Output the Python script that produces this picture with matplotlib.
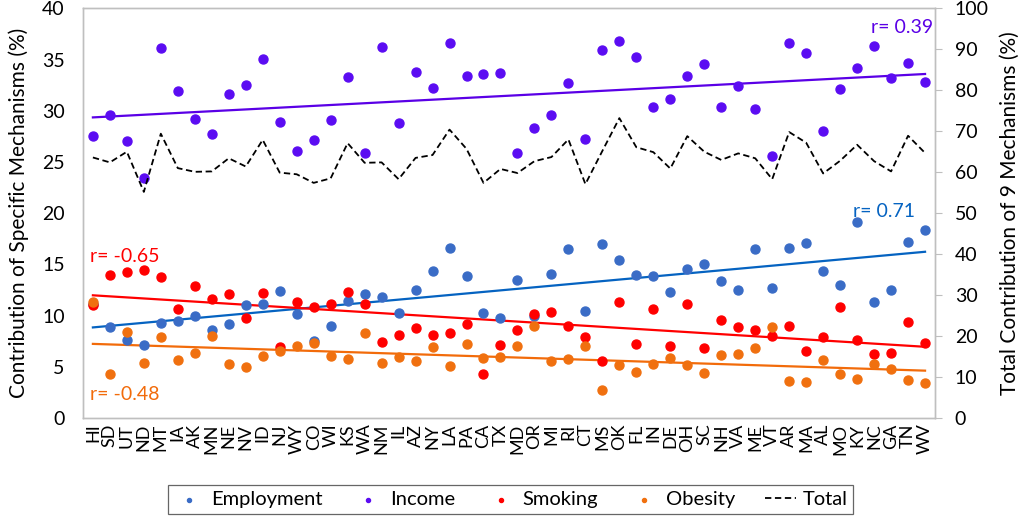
import numpy as np
import matplotlib
matplotlib.use("Agg")
import matplotlib.pyplot as plt

plt.rcParams['font.family'] = ['Lato', 'DejaVu Sans']

states = ['HI', 'SD', 'UT', 'ND', 'MT', 'IA', 'AK', 'MN', 'NE', 'NV',
          'ID', 'NJ', 'WY', 'CO', 'WI', 'KS', 'WA', 'NM', 'IL', 'AZ',
          'NY', 'LA', 'PA', 'CA', 'TX', 'MD', 'OR', 'MI', 'RI', 'CT',
          'MS', 'OK', 'FL', 'IN', 'DE', 'OH', 'SC', 'NH', 'VA', 'ME',
          'VT', 'AR', 'MA', 'AL', 'MO', 'KY', 'NC', 'GA', 'TN', 'WV']

employment = [11.1, 8.9, 7.6, 7.1, 9.3, 9.5, 10.0, 8.6, 9.2, 11.0,
              11.1, 12.4, 10.2, 7.5, 9.0, 11.4, 12.1, 11.8, 10.3, 12.5,
              14.4, 16.6, 13.9, 10.3, 9.8, 13.5, 10.0, 14.1, 16.5, 10.5,
              17.0, 15.4, 14.0, 13.9, 12.3, 14.6, 15.0, 13.4, 12.5, 16.5,
              12.7, 16.6, 17.1, 14.4, 13.0, 19.1, 11.3, 12.5, 17.2, 18.4]

income = [27.5, 29.6, 27.0, 23.4, 36.1, 31.9, 29.2, 27.7, 31.6, 32.5,
          35.1, 28.9, 26.1, 27.1, 29.1, 33.3, 25.9, 36.2, 28.8, 33.8,
          32.2, 36.6, 33.4, 33.6, 33.7, 25.9, 28.3, 29.6, 32.7, 27.2,
          35.9, 36.8, 35.2, 30.4, 31.1, 33.4, 34.6, 30.4, 32.4, 30.2,
          25.6, 36.6, 35.6, 28.0, 32.1, 34.2, 36.3, 33.2, 34.7, 32.8]

smoking = [11.0, 14.0, 14.3, 14.5, 13.8, 10.6, 12.9, 11.6, 12.1, 9.8,
           12.2, 6.9, 11.3, 10.8, 11.1, 12.3, 11.1, 7.4, 8.1, 8.8,
           8.1, 8.3, 9.2, 4.3, 7.1, 8.6, 10.2, 10.4, 9.0, 7.9,
           5.6, 11.3, 7.2, 10.6, 7.0, 11.1, 6.8, 9.6, 8.9, 8.6,
           8.0, 9.0, 6.5, 7.9, 10.8, 7.6, 6.3, 6.4, 9.4, 7.3]

obesity = [11.3, 4.3, 8.4, 5.4, 7.9, 5.7, 6.4, 8.0, 5.3, 5.0,
           6.1, 6.5, 7.0, 7.3, 6.1, 5.8, 8.3, 5.4, 6.0, 5.6,
           6.9, 5.1, 7.2, 5.9, 6.0, 7.0, 9.0, 5.6, 5.8, 7.0,
           2.7, 5.2, 4.5, 5.3, 5.9, 5.2, 4.4, 6.2, 6.3, 6.8,
           8.9, 3.6, 3.5, 5.7, 4.3, 3.8, 5.3, 4.8, 3.7, 3.4]

total = [63.6, 62.4, 65.0, 55.2, 69.4, 61.0, 60.1, 60.2, 63.4, 61.4,
         67.9, 59.9, 59.5, 57.4, 58.5, 67.1, 62.3, 62.4, 58.3, 63.5,
         64.2, 70.4, 65.7, 57.4, 60.8, 59.8, 62.7, 63.7, 68.0, 57.1,
         65.2, 73.2, 66.1, 64.9, 60.9, 68.8, 65.0, 63.0, 64.6, 63.4,
         58.3, 69.8, 67.2, 59.7, 62.8, 66.7, 62.7, 60.2, 68.9, 64.7]

series = [
    ('Employment', employment, '#3A6CC6', '#0563C1'),
    ('Income', income, '#5B0CF2', '#5A00E6'),
    ('Smoking', smoking, '#FF0000', '#FF0000'),
    ('Obesity', obesity, '#F0700F', '#F26B0A'),
]

x = np.arange(len(states))

fig = plt.figure(figsize=(10.21, 5.2), dpi=100)
ax = fig.add_axes([0.081, 0.196, 0.835, 0.788])
ax2 = ax.twinx()

handles = []
for name, vals, col, lcol in series:
    h = ax.scatter(x, vals, s=42, color=col, zorder=3, label=name)
    handles.append(h)
    # linear trend line for each mechanism
    k, b = np.polyfit(x, vals, 1)
    ax.plot(x, k * x + b, color=lcol, lw=1.6, zorder=2)

tl, = ax2.plot(x, total, color='black', ls=(0, (3.5, 2)), lw=1.3, label='Total')
handles.append(tl)

ax.set_xlim(-0.6, len(states) - 0.4)
ax.set_ylim(0, 40)
ax.set_yticks(np.arange(0, 41, 5))
ax2.set_ylim(0, 100)
ax2.set_yticks(np.arange(0, 101, 10))

ax.set_xticks(x)
ax.set_xticklabels(states, rotation=90, fontsize=13)
ax.tick_params(axis='y', labelsize=14, length=0, pad=13)
ax.tick_params(axis='x', length=0, pad=4)
ax2.tick_params(axis='y', labelsize=14, length=5, color='#BFBFBF', pad=9)

for a in (ax, ax2):
    for sp in a.spines.values():
        sp.set_color('#BFBFBF')
        sp.set_linewidth(1.0)

ax.set_ylabel('Contribution of Specific Mechanisms (%)', fontsize=15, labelpad=9)
ax2.set_ylabel('Total Contribution of 9 Mechanisms (%)', fontsize=15, labelpad=8)

ax.text(0.997, 0.953, 'r= 0.39', transform=ax.transAxes, color='#5A00E6',
        fontsize=14, ha='right', va='center')
ax.text(0.976, 0.505, 'r= 0.71', transform=ax.transAxes, color='#0563C1',
        fontsize=14, ha='right', va='center')
ax.text(0.008, 0.395, 'r= -0.65', transform=ax.transAxes, color='#FF0000',
        fontsize=14, ha='left', va='center')
ax.text(0.008, 0.057, 'r= -0.48', transform=ax.transAxes, color='#F26B0A',
        fontsize=14, ha='left', va='center')

leg = fig.legend(handles=handles, labels=[h.get_label() for h in handles],
                 loc='center', bbox_to_anchor=(0.5, 0.039), ncol=5,
                 fontsize=14.5, frameon=True, fancybox=False,
                 markerscale=0.45, handlelength=1.55, handletextpad=0.3,
                 columnspacing=1.5, borderpad=0.3, borderaxespad=0)
leg.get_frame().set_edgecolor('#404040')
leg.get_frame().set_linewidth(0.9)

fig.savefig('out.png', dpi=100)
